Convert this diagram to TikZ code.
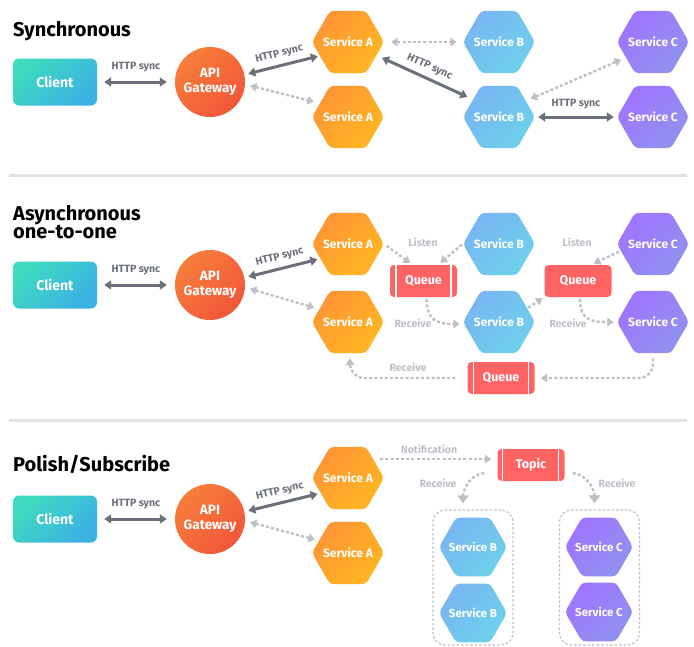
\documentclass[tikz,border=0pt]{standalone}
\usepackage{fontspec}
\setmainfont{Fira Sans}
\usetikzlibrary{shapes.geometric,arrows.meta,calc}
\definecolor{oA}{HTML}{FF9535}
\definecolor{oB}{HTML}{FFB622}
\definecolor{bA}{HTML}{79B5F2}
\definecolor{bB}{HTML}{6DD1EB}
\definecolor{pA}{HTML}{A074FF}
\definecolor{pB}{HTML}{9092EF}
\definecolor{gA}{HTML}{F67E3A}
\definecolor{gB}{HTML}{F2563A}
\definecolor{cA}{HTML}{3EDBBE}
\definecolor{cB}{HTML}{3BB1E4}
\definecolor{qred}{HTML}{FF6464}
\definecolor{darkarr}{HTML}{6B7079}
\definecolor{lightarr}{HTML}{BDC0C7}
\definecolor{sepgray}{HTML}{E2E2E2}
\tikzset{
  hexbase/.style={regular polygon, regular polygon sides=6, inner sep=-12pt,
    rounded corners=4pt, text=white, font=\fontsize{12}{13}\selectfont\bfseries},
  hexA/.style={hexbase, minimum size=72pt, top color=oA, bottom color=oB, shading angle=45},
  hexB/.style={hexbase, minimum size=72pt, top color=bA, bottom color=bB, shading angle=45},
  hexC/.style={hexbase, minimum size=72pt, top color=pA, bottom color=pB, shading angle=45},
  client/.style={rectangle, rounded corners=6pt, minimum width=84pt, minimum height=47pt,
    top color=cA, bottom color=cB, shading angle=45, text=white,
    font=\fontsize{14}{15}\selectfont\bfseries},
  gateway/.style={circle, minimum size=70pt, inner sep=0pt, top color=gA, bottom color=gB,
    shading angle=45, text=white, align=center, font=\fontsize{13.5}{15}\selectfont\bfseries},
  queue/.style={rectangle, rounded corners=4pt, fill=qred, minimum width=67pt,
    minimum height=32pt, inner sep=0pt, text=white, font=\fontsize{12.5}{13}\selectfont\bfseries},
  groupbox/.style={rectangle, rounded corners=12pt, draw=lightarr, line width=1.2pt,
    dash pattern=on 2.5pt off 2pt, minimum width=80pt, minimum height=135pt},
  title/.style={inner sep=0pt, text=black, font=\fontsize{20}{18.5}\selectfont\bfseries},
  lbl/.style={text=darkarr, inner sep=0pt, font=\fontsize{10.5}{11}\selectfont\bfseries},
  lbllight/.style={text=lightarr, inner sep=0pt, font=\fontsize{10.5}{11}\selectfont\bfseries},
  sync/.style={draw=darkarr, line width=3pt, >={Triangle[length=7pt,width=9pt]}, <->},
  async/.style={draw=lightarr, line width=2.4pt, dash pattern=on 3pt off 2.2pt,
    >={Triangle[length=6.5pt,width=8.5pt]}},
  sep/.style={draw=sepgray, line width=3pt},
  qline/.style={draw=white, line width=1.5pt}
}
\begin{document}
\begin{tikzpicture}[x=1pt,y=-1pt]
\useasboundingbox[fill=white] (0,0) rectangle (694,646);

% separators
\draw[sep] (9,175.5) -- (687,175.5);
\draw[sep] (9,420.5) -- (687,420.5);

% ================= Section 1 =================
\node[title, anchor=base west] (t1) at (13,36) {Synchronous};
\node[client] (c1) at (55,82) {Client};
\node[gateway] (gw1) at (210,82) {API\\Gateway};
\node[hexA] (sa1) at (348,42) {Service A};
\node[hexA] (sa2) at (348,117) {Service A};
\node[hexB] (sb1) at (499,42) {Service B};
\node[hexB] (sb2) at (499,117) {Service B};
\node[hexC] (sc1) at (653,42) {Service C};
\node[hexC] (sc2) at (653,117) {Service C};

\draw[sync, shorten <=7pt, shorten >=8pt] (c1.east) -- node[lbl, above=9pt]{HTTP sync} (gw1.west);
\draw[sync, shorten <=4pt, shorten >=2pt] (gw1.12) -- node[lbl, sloped, above=5pt]{HTTP sync} (sa1.206);
\draw[async, <->, shorten <=5pt, shorten >=6pt] (gw1.-4) -- (sa2.154);
\draw[async, <->, shorten <=7pt, shorten >=6pt] (sa1.east) -- (sb1.west);
\draw[sync, shorten <=6pt, shorten >=6pt] (sa1.-25) -- node[lbl, sloped, above=5pt]{HTTP sync} (sb2.146);
\draw[async, <->, shorten <=5pt, shorten >=5pt] (sb2.31) -- (sc1.210);
\draw[sync, shorten <=3pt, shorten >=3pt] (sb2.east) -- node[lbl, above=7pt]{HTTP sync} (sc2.west);

% ================= Section 2 =================
\node[title, anchor=north west, align=left] (t2) at (13,205) {Asynchronous\\one-to-one};
\node[client] (c2) at (55,285) {Client};
\node[gateway] (gw2) at (210,285) {API\\Gateway};
\node[hexA] (sa3) at (348,244) {Service A};
\node[hexA] (sa4) at (348,322) {Service A};
\node[hexB] (sb3) at (499,244) {Service B};
\node[hexB] (sb4) at (499,322) {Service B};
\node[hexC] (sc3) at (653,244) {Service C};
\node[hexC] (sc4) at (653,322) {Service C};
\node[queue] (q1) at (423.5,281) {Queue};
\node[queue] (q2) at (578,281) {Queue};
\node[queue] (q3) at (501,378) {Queue};
\draw[qline] ([xshift=6pt]q1.north west) -- ([xshift=6pt]q1.south west);
\draw[qline] ([xshift=-6pt]q1.north east) -- ([xshift=-6pt]q1.south east);
\draw[qline] ([xshift=6pt]q3.north west) -- ([xshift=6pt]q3.south west);
\draw[qline] ([xshift=-6pt]q3.north east) -- ([xshift=-6pt]q3.south east);

\draw[sync, shorten <=7pt, shorten >=8pt] (c2.east) -- node[lbl, above=9pt]{HTTP sync} (gw2.west);
\draw[sync, shorten <=4pt, shorten >=3pt] (gw2.12) -- node[lbl, sloped, above=5pt]{HTTP sync} (sa3.208);
\draw[async, <->, shorten <=5pt, shorten >=5pt] (gw2.-4) -- (sa4.156);

\draw[async, ->, shorten <=3pt, shorten >=3pt] (sa3.east) -- (q1.124);
\draw[async, ->, shorten <=1pt, shorten >=3pt] (sb3.west) -- (q1.48);
\draw[async, ->, shorten <=2pt, shorten >=3pt] ([xshift=3pt]q1.south) .. controls +(0,24) and +(-24,0) .. ([yshift=-2pt]sb4.west);
\draw[async, ->, shorten <=1pt, shorten >=2pt] (sb4.26) -- (q2.south west);
\draw[async, ->, shorten <=2pt, shorten >=3pt] (sc3.192) -- (q2.51);
\draw[async, ->, shorten <=2pt, shorten >=3pt] ([xshift=2pt]q2.south) .. controls +(0,24) and +(-24,0) .. (sc4.west);
\draw[async, ->, rounded corners=14pt, shorten <=5pt, shorten >=6pt] (sc4.south) |- (q3.east);
\draw[async, ->, rounded corners=14pt, shorten <=12pt, shorten >=5pt] (q3.west) -| ([xshift=2pt]sa4.south);

\node[lbllight] (l1) at (423,242) {Listen};
\node[lbllight] (l2) at (577,242) {Listen};
\node[lbllight] (r1) at (413,323) {Receive};
\node[lbllight] (r2) at (568,323) {Receive};
\node[lbllight] (r3) at (408,367) {Receive};

% ================= Section 3 =================
\node[title, anchor=base west] (t3) at (13,471) {Polish/Subscribe};
\node[client] (c3) at (55,519) {Client};
\node[gateway] (gw3) at (210,519) {API\\Gateway};
\node[hexA] (sa5) at (348,478) {Service A};
\node[hexA] (sa6) at (348,553) {Service A};
\node[queue] (topic) at (531,465) {Topic};
\draw[qline] ([xshift=5pt]topic.north west) -- ([xshift=5pt]topic.south west);
\draw[qline] ([xshift=-6pt]topic.north east) -- ([xshift=-6pt]topic.south east);
\node[groupbox] (gb) at (473,577.5) {};
\node[groupbox] (gc) at (599.5,577.5) {};
\node[hexB, minimum size=68pt, font=\fontsize{11.5}{12}\selectfont\bfseries] (sb5) at (473,547) {Service B};
\node[hexB, minimum size=68pt, font=\fontsize{11.5}{12}\selectfont\bfseries] (sb6) at (473,613) {Service B};
\node[hexC, minimum size=68pt, font=\fontsize{11.5}{12}\selectfont\bfseries] (sc5) at (599,547) {Service C};
\node[hexC, minimum size=68pt, font=\fontsize{11.5}{12}\selectfont\bfseries] (sc6) at (599,612) {Service C};

\draw[sync, shorten <=7pt, shorten >=8pt] (c3.east) -- node[lbl, above=9pt]{HTTP sync} (gw3.west);
\draw[sync, shorten <=4pt, shorten >=3pt] (gw3.12) -- node[lbl, sloped, above=5pt]{HTTP sync} (sa5.209);
\draw[async, <->, shorten <=5pt, shorten >=4pt] (gw3.-3) -- (sa6.157);
\draw[async, ->, shorten <=-4pt, shorten >=6pt] (topic.170 -| sa5.east) -- (topic.170);
\draw[async, -{Triangle[length=8pt,width=11pt]}, shorten >=6pt] ([xshift=-13pt,yshift=-8pt]topic.west) .. controls +(-16,2) and +(0,-18) .. ([xshift=-10pt]gb.north);
\draw[async, -{Triangle[length=8pt,width=11pt]}, shorten >=6pt] ([xshift=8pt,yshift=-8pt]topic.east) .. controls +(16,2) and +(0,-18) .. ([xshift=-5pt]gc.north);

\node[lbllight] (n1) at (429,449) {Notification};
\node[lbllight] (r4) at (438,483) {Receive};
\node[lbllight] (r5) at (617,483) {Receive};
\end{tikzpicture}
\end{document}
